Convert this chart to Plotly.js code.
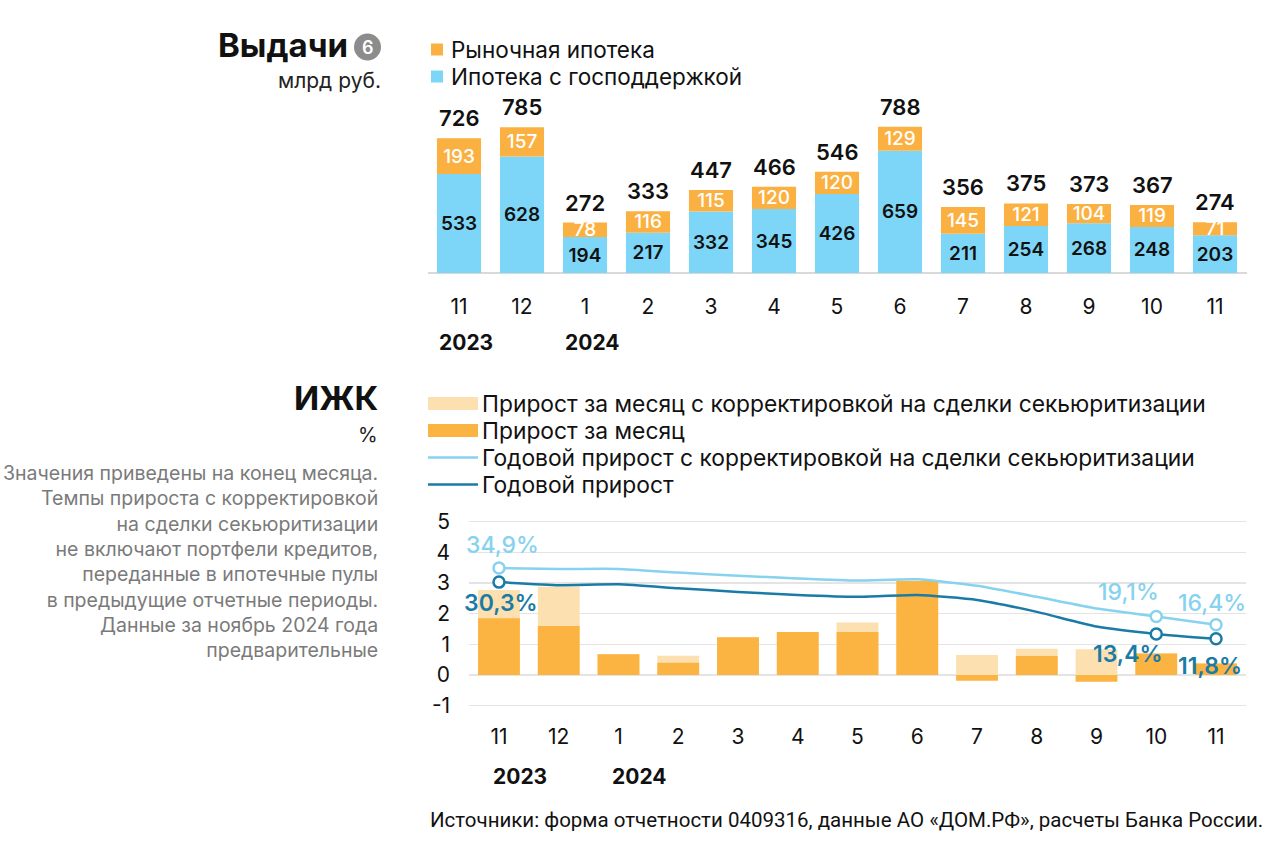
<!DOCTYPE html>
<html><head><meta charset="utf-8">
<script src="https://cdn.plot.ly/plotly-3.0.1.min.js"></script>
<style>html,body{margin:0;padding:0;background:#fff}#chart{width:1280px;height:846px}</style>
</head><body><div id="chart"></div>
<script>
// ---------- data ----------
const monthLabels = ['11','12','1','2','3','4','5','6','7','8','9','10','11'];
const yearTickIdx = [0, 2];
const yearTickText = ['2023', '2024'];

// Выдачи, млрд руб.
const stateSupported = [533, 628, 194, 217, 332, 345, 426, 659, 211, 254, 268, 248, 203];
const marketMortgage = [193, 157, 78, 116, 115, 120, 120, 129, 145, 121, 104, 119, 71];
const totalIssued    = [726, 785, 272, 333, 447, 466, 546, 788, 356, 375, 373, 367, 274];

// ИЖК, %
const monthGrowthAdj  = [2.77, 2.88, 0.68, 0.63, 1.23, 1.40, 1.71, 3.07, 0.65, 0.86, 0.84, 0.70, 0.38];
const monthGrowth     = [1.85, 1.60, 0.68, 0.40, 1.23, 1.40, 1.40, 3.07, -0.19, 0.62, -0.22, 0.70, 0.38];
const annualGrowthAdj = [34.9, 34.6, 34.6, 33.4, 32.4, 31.5, 30.8, 31.2, 29.1, 25.5, 21.7, 19.1, 16.4];
const annualGrowth    = [30.3, 29.3, 29.6, 28.3, 27.1, 26.1, 25.5, 26.1, 24.5, 20.6, 15.8, 13.4, 11.8];
const labeledIdx = [0, 11, 12];

const yTickVals = [-1, 0, 1, 2, 3, 4, 5];
const yTickText = ['-1', '0', '1', '2', '3', '4', '5'];

// ---------- styles ----------
const W = 1280, H = 846;
const px = v => v / W;
const py = v => 1 - v / H;
const idx = monthLabels.map((_, i) => i);
const FONT = 'Inter, "Noto Sans", sans-serif';
const FONT2 = 'Roboto, "Liberation Sans", sans-serif';
const C = {
  blue: '#7dd6f7', orange: '#fbb142', orangeLight: '#fde0b0', orangeDark: '#fbb442',
  lineLight: '#86d2ef', lineDark: '#1a7ba6', ink: '#111111', grid: '#e4e4e4'
};
// label offsets (pixels) for the annotated points
const adjLabelShift  = [[4, 23], [-28, 24], [-4, 22]];
const baseLabelShift = [[2, -21], [-28, -20], [-6, -27]];
const fmt = v => v.toFixed(1).replace('.', ',') + '%';

const traces = [
  // top chart
  { type: 'bar', x: idx, y: stateSupported, name: 'Ипотека с господдержкой',
    marker: { color: C.blue }, xaxis: 'x', yaxis: 'y', showlegend: false,
    text: stateSupported.map(String), textposition: 'inside', insidetextanchor: 'middle',
    textangle: 0, constraintext: 'none',
    textfont: { family: FONT, size: 19, color: C.ink, weight: 600 } },
  { type: 'bar', x: idx, y: marketMortgage, base: stateSupported, name: 'Рыночная ипотека',
    marker: { color: C.orange }, xaxis: 'x', yaxis: 'y', showlegend: false,
    text: marketMortgage.map(String), textposition: 'inside', insidetextanchor: 'middle',
    textangle: 0, constraintext: 'none',
    textfont: { family: FONT, size: 19, color: '#ffffff', weight: 500 } },

  // bottom chart bars
  { type: 'bar', x: idx, y: monthGrowthAdj, name: 'Прирост за месяц с корректировкой на сделки секьюритизации',
    marker: { color: C.orangeLight }, xaxis: 'x2', yaxis: 'y2', showlegend: false },
  { type: 'bar', x: idx, y: monthGrowth, name: 'Прирост за месяц',
    marker: { color: C.orangeDark }, xaxis: 'x2', yaxis: 'y2', showlegend: false },
  // lines
  { type: 'scatter', mode: 'lines', x: idx, y: annualGrowthAdj, name: 'Годовой прирост с корректировкой на сделки секьюритизации',
    line: { color: C.lineLight, width: 2.5, shape: 'spline', smoothing: 0.5 }, xaxis: 'x2', yaxis: 'y3', showlegend: false },
  { type: 'scatter', mode: 'lines', x: idx, y: annualGrowth, name: 'Годовой прирост',
    line: { color: C.lineDark, width: 2.5, shape: 'spline', smoothing: 0.5 }, xaxis: 'x2', yaxis: 'y3', showlegend: false },
  { type: 'scatter', mode: 'markers', x: labeledIdx, y: labeledIdx.map(i => annualGrowthAdj[i]), showlegend: false,
    marker: { size: 11, color: '#ffffff', line: { color: C.lineLight, width: 2.5 } }, xaxis: 'x2', yaxis: 'y3', cliponaxis: false },
  { type: 'scatter', mode: 'markers', x: labeledIdx, y: labeledIdx.map(i => annualGrowth[i]), showlegend: false,
    marker: { size: 11, color: '#ffffff', line: { color: C.lineDark, width: 2.5 } }, xaxis: 'x2', yaxis: 'y3', cliponaxis: false }
];

const annotations = [];
const shapes = [
  { type: 'circle', xref: 'paper', yref: 'paper', x0: px(354), x1: px(381), y0: py(60.5), y1: py(33.5),
    fillcolor: '#8c8c8c', line: { width: 0 } }
];

// totals above the stacked bars
idx.forEach(i => {
  annotations.push({ xref: 'x', yref: 'y', x: i, y: totalIssued[i], text: String(totalIssued[i]), showarrow: false,
    yanchor: 'bottom', yshift: 5, font: { family: FONT, size: 22, color: C.ink, weight: 600 } });
});
// labelled annual growth points
labeledIdx.forEach((i, k) => {
  annotations.push({ xref: 'x2', yref: 'y3', x: i, y: annualGrowthAdj[i], text: fmt(annualGrowthAdj[i]),
    showarrow: false, xshift: adjLabelShift[k][0], yshift: adjLabelShift[k][1],
    font: { family: FONT, size: 23, color: C.lineLight, weight: 500 } });
  annotations.push({ xref: 'x2', yref: 'y3', x: i, y: annualGrowth[i], text: fmt(annualGrowth[i]),
    showarrow: false, xshift: baseLabelShift[k][0], yshift: baseLabelShift[k][1],
    font: { family: FONT, size: 23, color: C.lineDark, weight: 600 } });
});
yearTickIdx.forEach((i, k) => {
  annotations.push({ xref: 'x', yref: 'paper', x: i, y: py(342), text: yearTickText[k], showarrow: false,
    xanchor: 'left', xshift: -22, yanchor: 'middle', font: { family: FONT, size: 21, color: C.ink, weight: 700 } });
  annotations.push({ xref: 'x2', yref: 'paper', x: i, y: py(776), text: yearTickText[k], showarrow: false,
    xanchor: 'left', xshift: -8, yanchor: 'middle', font: { family: FONT, size: 21, color: C.ink, weight: 700 } });
});

// legends (drawn as layout items, names/colours taken from the traces)
const topLegend = [traces[1], traces[0]];
topLegend.forEach((t, k) => {
  const yc = 49.5 + k * 27;
  shapes.push({ type: 'rect', xref: 'paper', yref: 'paper', x0: px(431), x1: px(443), y0: py(yc + 6), y1: py(yc - 6),
    fillcolor: t.marker.color, line: { width: 0 } });
  annotations.push({ xref: 'paper', yref: 'paper', x: px(449), y: py(yc), xanchor: 'left', yanchor: 'middle',
    showarrow: false, text: t.name, font: { family: FONT, size: 22.5, color: C.ink } });
});
const bottomLegend = [traces[2], traces[3], traces[4], traces[5]];
bottomLegend.forEach((t, k) => {
  const yc = 403.5 + k * 27;
  if (t.type === 'bar') {
    shapes.push({ type: 'rect', xref: 'paper', yref: 'paper', x0: px(428), x1: px(478), y0: py(yc + 6.5), y1: py(yc - 6.5),
      fillcolor: t.marker.color, line: { width: 0 } });
  } else {
    shapes.push({ type: 'line', xref: 'paper', yref: 'paper', x0: px(428), x1: px(478), y0: py(yc), y1: py(yc),
      line: { color: t.line.color, width: 2.5 } });
  }
  annotations.push({ xref: 'paper', yref: 'paper', x: px(480), y: py(yc), xanchor: 'left', yanchor: 'middle',
    showarrow: false, text: t.name, font: { family: FONT, size: 22.8, color: C.ink } });
});

annotations.push(
  { xref: 'paper', yref: 'paper', x: px(350), y: py(45), xanchor: 'right', yanchor: 'middle', showarrow: false,
    text: 'Выдачи', font: { family: FONT, size: 33, color: C.ink, weight: 700 } },
  { xref: 'paper', yref: 'paper', x: px(367.5), y: py(47), xanchor: 'center', yanchor: 'middle', showarrow: false,
    text: '6', font: { family: FONT, size: 18, color: '#ffffff', weight: 600 } },
  { xref: 'paper', yref: 'paper', x: px(383), y: py(80), xanchor: 'right', yanchor: 'middle', showarrow: false,
    text: 'млрд руб.', font: { family: FONT, size: 21, color: '#222' } },
  { xref: 'paper', yref: 'paper', x: px(380), y: py(398), xanchor: 'right', yanchor: 'middle', showarrow: false,
    text: 'ИЖК', font: { family: FONT, size: 33, color: C.ink, weight: 700 } },
  { xref: 'paper', yref: 'paper', x: px(380), y: py(435), xanchor: 'right', yanchor: 'middle', showarrow: false,
    text: '%', font: { family: FONT, size: 20, color: '#222' } },
  { xref: 'paper', yref: 'paper', x: px(380), y: py(561), xanchor: 'right', yanchor: 'middle', showarrow: false, align: 'right',
    text: 'Значения приведены на конец месяца.<br>Темпы прироста с корректировкой<br>на сделки секьюритизации<br>не включают портфели кредитов,<br>переданные в ипотечные пулы<br>в предыдущие отчетные периоды.<br>Данные за ноябрь 2024 года<br>предварительные',
    font: { family: FONT, size: 19.5, color: '#7a7a7a' } },
  { xref: 'paper', yref: 'paper', x: px(428), y: py(820), xanchor: 'left', yanchor: 'middle', showarrow: false,
    text: 'Источники: форма отчетности 0409316, данные АО «ДОМ.РФ», расчеты Банка России.',
    font: { family: FONT2, size: 20.5, color: C.ink } }
);

const tickFont = { family: FONT, size: 21, color: C.ink };
const layout = {
  width: W, height: H, margin: { l: 0, r: 0, t: 0, b: 0 },
  paper_bgcolor: '#ffffff', plot_bgcolor: 'rgba(0,0,0,0)',
  barmode: 'overlay', bargap: 0.3, hovermode: false, showlegend: false,
  xaxis: { domain: [px(427.5), px(1246.5)], range: [-0.5, 12.5], anchor: 'y',
    tickvals: idx, ticktext: monthLabels, tickfont: tickFont, ticks: '', showgrid: false, zeroline: false,
    showline: false, ticklabelstandoff: 19, fixedrange: true },
  yaxis: { domain: [py(273), py(95)], range: [0, 959.5], anchor: 'x', showticklabels: false, showgrid: false,
    zeroline: true, zerolinecolor: '#d9d9d9', zerolinewidth: 1.5, fixedrange: true },
  xaxis2: { domain: [px(469.1), px(1245.9)], range: [-0.5, 12.5], anchor: 'y2',
    tickvals: idx, ticktext: monthLabels, tickfont: tickFont, ticks: '', showgrid: false, zeroline: false,
    showline: false, ticklabelstandoff: 7, fixedrange: true },
  yaxis2: { domain: [py(714.9), py(512.5)], range: [-1.3, 5.3], anchor: 'x2',
    tickvals: yTickVals, ticktext: yTickText, tickfont: tickFont, ticks: '',
    showgrid: true, gridcolor: C.grid, gridwidth: 1.5, zeroline: true, zerolinecolor: C.grid, zerolinewidth: 1.5,
    ticklabelstandoff: 18, fixedrange: true },
  yaxis3: { domain: [py(714.9), py(512.5)], range: [-13, 53], anchor: 'x2', overlaying: 'y2', visible: false, fixedrange: true },
  shapes: shapes,
  annotations: annotations
};

Plotly.newPlot('chart', traces, layout, { displayModeBar: false, staticPlot: true });
</script>
</body></html>
